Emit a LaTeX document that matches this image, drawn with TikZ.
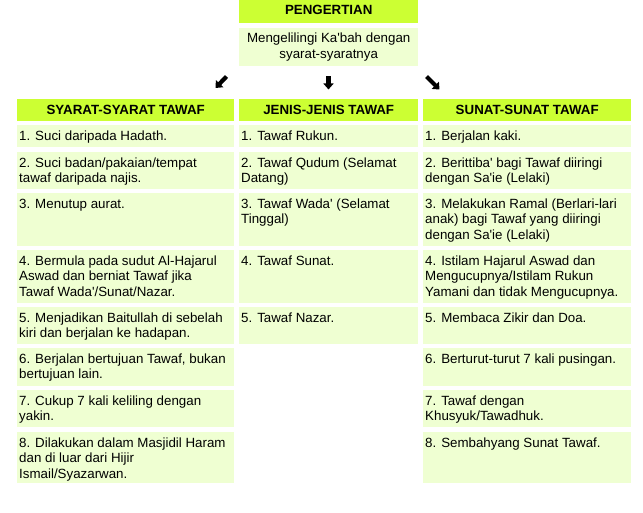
\documentclass[tikz,border=0pt]{standalone}
\usepackage{fontspec}
\setmainfont{Liberation Sans}
\usetikzlibrary{arrows.meta}
\definecolor{headgreen}{HTML}{CCFF33}
\definecolor{cellgreen}{HTML}{EFFFD2}

\begin{document}
\begin{tikzpicture}[
  x=1pt, y=-1pt,
  every node/.style={font=\fontsize{13.33}{15.5}\selectfont},
  head/.style={fill=headgreen, anchor=north west, inner sep=0pt, minimum height=22,
    font=\fontsize{13.33}{15.5}\selectfont\bfseries},
  cell/.style={fill=cellgreen, anchor=north west, inner sep=0pt},
  colA/.style={cell, minimum width=217},
  colB/.style={cell, minimum width=179},
  colC/.style={cell, minimum width=208},
  txt/.style={anchor=north west, inner sep=0pt, align=left},
  pointer/.style={line width=4.2pt, -{Triangle[length=6pt, width=10pt]}}
]
  \useasboundingbox (0,0) rectangle (643,513);
  % definition
  \node[head, minimum width=179, minimum height=23, text depth=4.5pt] (pg) at (239,0) {PENGERTIAN};
  \node[cell, align=center, minimum width=179, minimum height=37.5] (def) at (239,28)
    {Mengelilingi Ka\textquotesingle bah dengan\\syarat-syaratnya};
  % arrows
  \coordinate (la) at (226.5,76.5);
  \coordinate (lb) at (215.5,88);
  \coordinate (ma) at (328.5,76.5);
  \coordinate (mb) at (328.5,89.5);
  \coordinate (ra) at (426.5,76.5);
  \coordinate (rb) at (439.5,89.5);
  \draw[pointer] (la) -- (lb);
  \draw[pointer] (ma) -- (mb);
  \draw[pointer] (ra) -- (rb);
  % headers
  \node[head, minimum width=217] (hA) at (17,99) {SYARAT-SYARAT TAWAF};
  \node[head, minimum width=179] (hB) at (239,99) {JENIS-JENIS TAWAF};
  \node[head, minimum width=208] (hC) at (423,99) {SUNAT-SUNAT TAWAF};
  % syarat
  \node[colA, minimum height=22] (a1) at (17,125) {};
  \node[colA, minimum height=37] (a2) at (17,152) {};
  \node[colA, minimum height=53] (a3) at (17,193) {};
  \node[colA, minimum height=53] (a4) at (17,250) {};
  \node[colA, minimum height=37] (a5) at (17,307) {};
  \node[colA, minimum height=38] (a6) at (17,348) {};
  \node[colA, minimum height=37] (a7) at (17,390) {};
  \node[colA, minimum height=51] (a8) at (17,432) {};
  \node[txt] (a1t) at (19,130.5) {1. Suci daripada Hadath.};
  \node[txt] (a2t) at (19,157.5) {2. Suci badan/pakaian/tempat\\tawaf daripada najis.};
  \node[txt] (a3t) at (19,198.5) {3. Menutup aurat.};
  \node[txt] (a4t) at (19,255.5) {4. Bermula pada sudut Al-Hajarul\\Aswad dan berniat Tawaf jika\\Tawaf Wada\textquotesingle/Sunat/Nazar.};
  \node[txt] (a5t) at (19,312.5) {5. Menjadikan Baitullah di sebelah\\kiri dan berjalan ke hadapan.};
  \node[txt] (a6t) at (19,353.5) {6. Berjalan bertujuan Tawaf, bukan\\bertujuan lain.};
  \node[txt] (a7t) at (19,395.5) {7. Cukup 7 kali keliling dengan\\yakin.};
  \node[txt] (a8t) at (19,437.5) {8. Dilakukan dalam Masjidil Haram\\dan di luar dari Hijir\\Ismail/Syazarwan.};
  % jenis
  \node[colB, minimum height=22] (b1) at (239,125) {};
  \node[colB, minimum height=37] (b2) at (239,152) {};
  \node[colB, minimum height=53] (b3) at (239,193) {};
  \node[colB, minimum height=53] (b4) at (239,250) {};
  \node[colB, minimum height=37] (b5) at (239,307) {};
  \node[txt] (b1t) at (241,130.5) {1. Tawaf Rukun.};
  \node[txt] (b2t) at (241,157.5) {2. Tawaf Qudum (Selamat\\Datang)};
  \node[txt] (b3t) at (241,198.5) {3. Tawaf Wada\textquotesingle{} (Selamat\\Tinggal)};
  \node[txt] (b4t) at (241,255.5) {4. Tawaf Sunat.};
  \node[txt] (b5t) at (241,312.5) {5. Tawaf Nazar.};
  % sunat
  \node[colC, minimum height=22] (c1) at (423,125) {};
  \node[colC, minimum height=37] (c2) at (423,152) {};
  \node[colC, minimum height=53] (c3) at (423,193) {};
  \node[colC, minimum height=53] (c4) at (423,250) {};
  \node[colC, minimum height=37] (c5) at (423,307) {};
  \node[colC, minimum height=38] (c6) at (423,348) {};
  \node[colC, minimum height=37] (c7) at (423,390) {};
  \node[colC, minimum height=51] (c8) at (423,432) {};
  \node[txt] (c1t) at (425,130.5) {1. Berjalan kaki.};
  \node[txt] (c2t) at (425,157.5) {2. Berittiba\textquotesingle{} bagi Tawaf diiringi\\dengan Sa\textquotesingle ie (Lelaki)};
  \node[txt] (c3t) at (425,198.5) {3. Melakukan Ramal (Berlari-lari\\anak) bagi Tawaf yang diiringi\\dengan Sa\textquotesingle ie (Lelaki)};
  \node[txt] (c4t) at (425,255.5) {4. Istilam Hajarul Aswad dan\\Mengucupnya/Istilam Rukun\\Yamani dan tidak Mengucupnya.};
  \node[txt] (c5t) at (425,312.5) {5. Membaca Zikir dan Doa.};
  \node[txt] (c6t) at (425,353.5) {6. Berturut-turut 7 kali pusingan.};
  \node[txt] (c7t) at (425,395.5) {7. Tawaf dengan\\Khusyuk/Tawadhuk.};
  \node[txt] (c8t) at (425,437.5) {8. Sembahyang Sunat Tawaf.};
\end{tikzpicture}
\end{document}
